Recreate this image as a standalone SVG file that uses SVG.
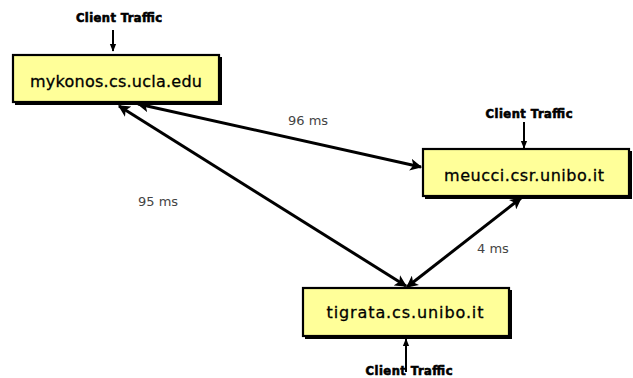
<svg xmlns="http://www.w3.org/2000/svg" width="633" height="378" viewBox="0 0 633 378">
<defs>
<style>
.box{fill:#ffff99;stroke:#000;stroke-width:2.2}
.shadow{fill:#000}
.host{font-family:"DejaVu Sans",sans-serif;font-size:16px;fill:#000;text-anchor:middle;stroke:#000;stroke-width:0.3}
.ct{font-family:"DejaVu Sans",sans-serif;font-size:11.5px;font-weight:bold;fill:#000;text-anchor:middle;stroke:#000;stroke-width:0.6}
.lat{font-family:"DejaVu Sans",sans-serif;font-size:13px;fill:#444;text-anchor:start}
.edge{stroke:#000;stroke-width:3;fill:none}
.small{stroke:#000;stroke-width:2;fill:none}
</style>
<marker id="ah" viewBox="0 0 10 10" refX="9" refY="5" markerWidth="4" markerHeight="4" orient="auto-start-reverse" markerUnits="strokeWidth">
<path d="M0,0 L10,5 L0,10 L2.5,5 Z" fill="#000"/>
</marker>
<marker id="ahs" viewBox="0 0 10 10" refX="9" refY="5" markerWidth="4" markerHeight="4" orient="auto" markerUnits="strokeWidth">
<path d="M0,1 L10,5 L0,9 Z" fill="#000"/>
</marker>
</defs>
<rect width="633" height="378" fill="#fff"/>

<g id="connectors">
<line class="edge" x1="138" y1="104" x2="421" y2="167" marker-start="url(#ah)" marker-end="url(#ah)"/>
<line class="edge" x1="119" y1="106" x2="406" y2="286" marker-start="url(#ah)" marker-end="url(#ah)"/>
<line class="edge" x1="521" y1="198" x2="407" y2="287" marker-start="url(#ah)" marker-end="url(#ah)"/>
<line class="small" x1="113" y1="30" x2="113" y2="51" marker-end="url(#ahs)"/>
<line class="small" x1="524" y1="122" x2="524" y2="148" marker-end="url(#ahs)"/>
<line class="small" x1="406" y1="372" x2="406" y2="339" marker-end="url(#ahs)"/>
<text class="lat" x="288" y="125">96 ms</text>
<text class="lat" x="138" y="206">95 ms</text>
<text class="lat" x="477" y="253">4 ms</text>
</g>

<g id="mykonos">
<rect class="shadow" x="15" y="57" width="207" height="48"/>
<rect class="box" x="13" y="55" width="206" height="47"/>
<text class="host" x="116" y="87" textLength="172">mykonos.cs.ucla.edu</text>
</g>
<g id="mykonos-traffic">
<text class="ct" x="119" y="22" textLength="86">Client Traffic</text>
</g>

<g id="meucci">
<rect class="shadow" x="425" y="151" width="207" height="48"/>
<rect class="box" x="423" y="149" width="206" height="47"/>
<text class="host" x="524" y="181" textLength="160">meucci.csr.unibo.it</text>
</g>
<g id="meucci-traffic">
<text class="ct" x="529" y="118" textLength="87">Client Traffic</text>
</g>

<g id="tigrata">
<rect class="shadow" x="305" y="290" width="207" height="49"/>
<rect class="box" x="303" y="288" width="206" height="48"/>
<text class="host" x="405" y="318" textLength="157">tigrata.cs.unibo.it</text>
</g>
<g id="tigrata-traffic">
<text class="ct" x="409" y="375" textLength="87">Client Traffic</text>
</g>
</svg>
